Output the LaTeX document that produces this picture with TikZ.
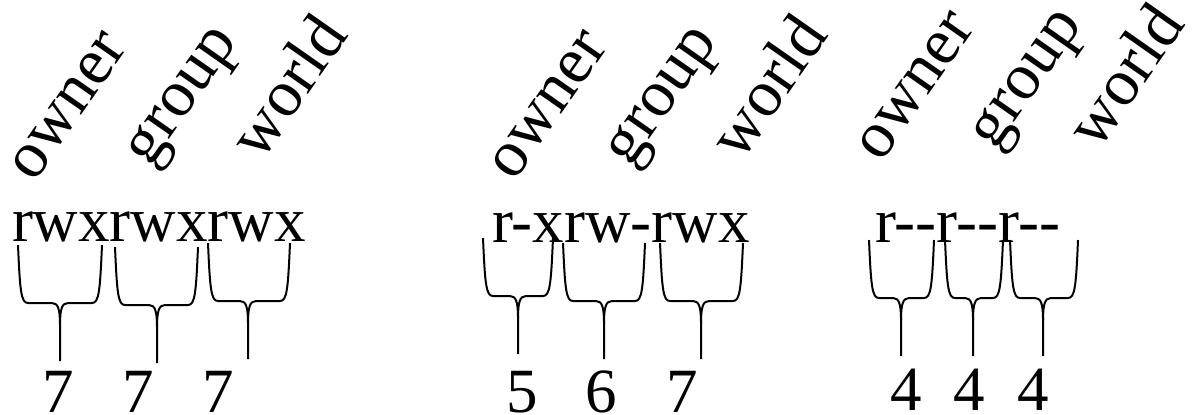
\documentclass[tikz,border=0pt]{standalone}
\usepackage{fontspec}
\setmainfont{Liberation Serif}
\usetikzlibrary{positioning}

\tikzset{
	bigtext/.style={inner sep=0pt, outer sep=0pt, font=\fontsize{31.5}{36}\selectfont},
	rolelabel/.style={bigtext, font=\fontsize{33}{38}\selectfont, rotate=55, anchor=base west},
	bitgroup/.style={bigtext, anchor=base west},
	octal/.style={bigtext, anchor=base},
	bracepath/.style={line width=1pt, line join=round}
}

% left end, right end, tip x, top y
\newcommand{\permbrace}[4]{
	\draw[bracepath] (#1,#4) .. controls (#1+2,#4+46) and (#1+3,#4+58) .. (#1+10,#4+58) -- (#3-8,#4+58)
		.. controls (#3-2,#4+58) and (#3,#4+64) .. (#3,#4+80) -- (#3,#4+116);
	\draw[bracepath] (#2,#4) .. controls (#2-2,#4+46) and (#2-3,#4+58) .. (#2-10,#4+58) -- (#3+8,#4+58)
		.. controls (#3+2,#4+58) and (#3,#4+64) .. (#3,#4+80);
}

\begin{document}
\begin{tikzpicture}[x=0.5pt, y=-0.5pt]
			\useasboundingbox (0,0) rectangle (1197,414);

			\node[rolelabel] (ownA) at (34,183) {owner};
			\node[rolelabel] (grpA) at (150,168) {group};
			\node[rolelabel] (wldA) at (261,162) {world};
			\node[bitgroup] (bitsA1) at (12,241) {rwx};
			\node[bigtext, base right=0pt of bitsA1] (bitsA2) {rwx};
			\node[bigtext, base right=0pt of bitsA2] (bitsA3) {rwx};
			\permbrace{18}{102}{60}{245}
			\permbrace{115}{198}{157}{247}
			\permbrace{208}{290}{248}{243}
			\node[octal] (numA1) at (58,412) {7};
			\node[octal] (numA2) at (138,412) {7};
			\node[octal] (numA3) at (218,412) {7};

			\node[rolelabel] (ownB) at (514,182) {owner};
			\node[rolelabel] (grpB) at (630,168) {group};
			\node[rolelabel] (wldB) at (741,162) {world};
			\node[bitgroup] (bitsB1) at (492,242) {r-x};
			\node[bigtext, base right=0pt of bitsB1] (bitsB2) {rw-};
			\node[bigtext, base right=0pt of bitsB2] (bitsB3) {rwx};
			\permbrace{483}{553}{518}{238}
			\permbrace{563}{645}{604}{243}
			\permbrace{660}{743}{701}{243}
			\node[octal] (numB1) at (522,412) {5};
			\node[octal] (numB2) at (601,412) {6};
			\node[octal] (numB3) at (682,412) {7};

			\node[rolelabel] (ownC) at (881,163) {owner};
			\node[rolelabel] (grpC) at (995,151) {group};
			\node[rolelabel] (wldC) at (1098,151) {world};
			\node[bitgroup] (bitsC1) at (875,242) {r{-}{-}};
			\node[bigtext, base right=0pt of bitsC1] (bitsC2) {r{-}{-}};
			\node[bigtext, base right=0pt of bitsC2] (bitsC3) {r{-}{-}};
			\permbrace{869}{934}{901}{240}
			\permbrace{945}{1003}{973}{240}
			\permbrace{1010}{1078}{1043}{240}
			\node[octal] (numC1) at (906,410) {4};
			\node[octal] (numC2) at (969,410) {4};
			\node[octal] (numC3) at (1033,410) {4};
		\end{tikzpicture}
\end{document}
